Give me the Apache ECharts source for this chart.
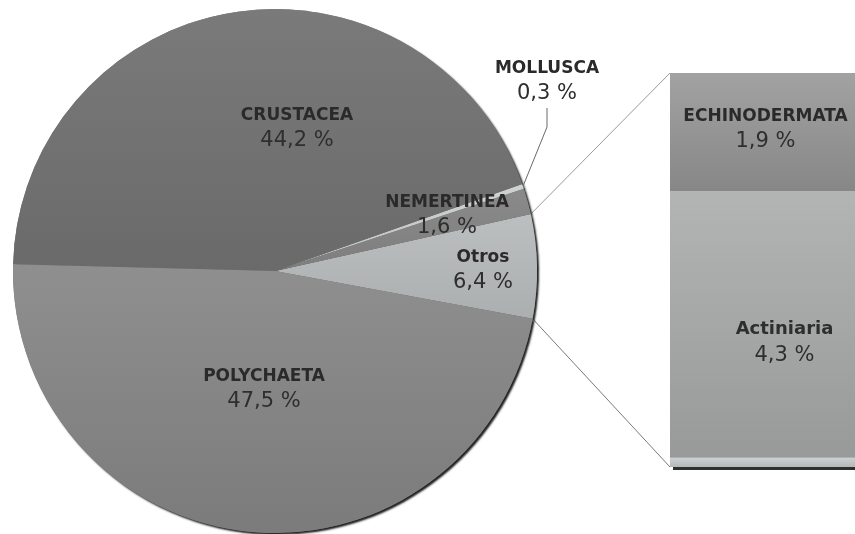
<!DOCTYPE html>
<html><head><meta charset="utf-8">
<script src="https://cdn.jsdelivr.net/npm/echarts@6/dist/echarts.min.js"></script>
<style>html,body{margin:0;padding:0;background:#fff}#c{width:855px;height:534px}</style>
</head><body><div id="c"></div>
<script>
// ---- data ----
const pieNames = ['Otros', 'NEMERTINEA', 'MOLLUSCA', 'CRUSTACEA', 'POLYCHAETA'];
const pieValues = [6.4, 1.6, 0.3, 44.2, 47.5];
const barNames = ['resto', 'Actiniaria', 'ECHINODERMATA'];
const barValues = [0.15, 4.3, 1.9];
const barCategory = ['Otros'];

// ---- layout / style ----
const PIE_C = [275, 271], PIE_R = 262, START = -10.5;
const GRID = { left: 670, top: 73, right: 0, bottom: 67 };
const W = 855, H = 534;
const labelPos = {
  'Otros': [483, 270], 'NEMERTINEA': [447, 215], 'CRUSTACEA': [297, 128],
  'POLYCHAETA': [264, 389], 'MOLLUSCA': [547, 81]
};
function vgrad(a, b) {
  return { type: 'linear', x: 0, y: 0, x2: 0, y2: 1, colorStops: [{ offset: 0, color: a }, { offset: 1, color: b }] };
}
const pieColors = {
  'Otros': vgrad('#bcbfbf', '#acafaf'),
  'NEMERTINEA': vgrad('#8a8a8a', '#7e7e7e'),
  'MOLLUSCA': vgrad('#cfd2d2', '#c0c3c3'),
  'CRUSTACEA': vgrad('#7a7a7a', '#6a6a6a'),
  'POLYCHAETA': vgrad('#8f8f8f', '#7b7b7b')
};
const barColors = {
  'resto': vgrad('#cdd1d1', '#b4b8b8'),
  'Actiniaria': vgrad('#b3b5b5', '#989999'),
  'ECHINODERMATA': vgrad('#a2a2a2', '#878787')
};
const fmt = v => (Math.round(v * 10) / 10).toFixed(1).replace('.', ',') + ' %';
const rich = {
  n: { fontFamily: 'DejaVu Sans', fontWeight: 'bold', fontSize: 17, color: '#2a2a2a', lineHeight: 25, align: 'center' },
  v: { fontFamily: 'DejaVu Sans', fontSize: 21, color: '#2e2e2e', lineHeight: 25, align: 'center' },
  a: { fontFamily: 'DejaVu Sans', fontWeight: 'bold', fontSize: 18, color: '#2e2e2e', lineHeight: 26, align: 'center' }
};

const pieData = pieNames.map((n, i) => {
  const item = { name: n, value: pieValues[i], itemStyle: { color: pieColors[n] } };
  if (n === 'MOLLUSCA') {
    item.label = { position: 'outside' };
    item.labelLine = { show: true, length: 10, length2: 10, lineStyle: { color: '#6a6a6a', width: 1 } };
  }
  return item;
});

const chart = echarts.init(document.getElementById('c'), null, { renderer: 'canvas' });

// connector lines from the edges of the "Otros" slice to the bar
const total = pieValues.reduce((a, b) => a + b, 0);
const otrosIdx = pieNames.indexOf('Otros');
let acc = 0;
for (let i = 0; i < otrosIdx; i++) acc += pieValues[i];
const a0 = (START + acc / total * 360) * Math.PI / 180;
const a1 = (START + (acc + pieValues[otrosIdx]) / total * 360) * Math.PI / 180;
const pTop = [PIE_C[0] + PIE_R * Math.cos(a1), PIE_C[1] - PIE_R * Math.sin(a1)];
const pBot = [PIE_C[0] + PIE_R * Math.cos(a0), PIE_C[1] - PIE_R * Math.sin(a0)];
const barTopLeft = [GRID.left, GRID.top];
const barBotLeft = [GRID.left, H - GRID.bottom];

chart.setOption({
  animation: false,
  backgroundColor: '#ffffff',
  grid: { left: GRID.left, top: GRID.top, right: GRID.right, bottom: GRID.bottom },
  xAxis: { type: 'category', data: barCategory, show: false },
  yAxis: { type: 'value', min: 0, max: barValues.reduce((a, b) => a + b, 0), show: false },
  graphic: [
    { type: 'line', z: 1, shape: { x1: pTop[0], y1: pTop[1], x2: barTopLeft[0], y2: barTopLeft[1] }, style: { stroke: '#9a9a9a', lineWidth: 1 } },
    { type: 'line', z: 1, shape: { x1: pBot[0], y1: pBot[1], x2: barBotLeft[0], y2: barBotLeft[1] }, style: { stroke: '#7a7a7a', lineWidth: 1 } }
  ],
  series: [
    // shadow disc under the pie
    {
      type: 'pie', silent: true, z: 1, center: PIE_C, radius: PIE_R, startAngle: START, clockwise: false,
      label: { show: false }, labelLine: { show: false },
      itemStyle: { color: '#777', shadowColor: 'rgba(20,20,20,0.95)', shadowBlur: 2, shadowOffsetX: 2, shadowOffsetY: 2 },
      data: pieValues.map((v, i) => ({ name: pieNames[i], value: v }))
    },
    {
      type: 'pie', z: 2, center: PIE_C, radius: PIE_R, startAngle: START, clockwise: false,
      avoidLabelOverlap: false,
      itemStyle: { borderWidth: 0 },
      label: {
        show: true, position: 'inside',
        formatter: p => '{n|' + p.name + '}\n{v|' + fmt(p.value) + '}',
        rich: rich
      },
      labelLine: { show: false },
      labelLayout: function (params) {
        const name = pieNames[params.dataIndex];
        const pos = labelPos[name];
        const res = { x: pos[0], y: pos[1], align: 'center', verticalAlign: 'middle' };
        if (name === 'MOLLUSCA' && params.labelLinePoints) {
          const p0 = params.labelLinePoints[0];
          res.labelLinePoints = [p0, [pos[0], pos[1] + 46], [pos[0], pos[1] + 27]];
        }
        return res;
      },
      data: pieData
    },
    // bar of "Otros"
    ...barNames.map((n, i) => ({
      type: 'bar', name: n, stack: 'otros', barWidth: '100%', z: 3,
      data: [barValues[i]],
      itemStyle: n === 'resto'
        ? { color: barColors[n], shadowColor: '#2f2f2f', shadowOffsetY: 3, shadowOffsetX: 3, shadowBlur: 0 }
        : { color: barColors[n] },
      label: n === 'resto' ? { show: false } : {
        show: true, position: 'inside',
        offset: n === 'Actiniaria' ? [22, 18] : [3, -3],
        formatter: p => '{' + (n === 'Actiniaria' ? 'a' : 'n') + '|' + p.seriesName + '}\n{v|' + fmt(p.value) + '}',
        rich: rich
      }
    }))
  ]
});
</script>
</body></html>
